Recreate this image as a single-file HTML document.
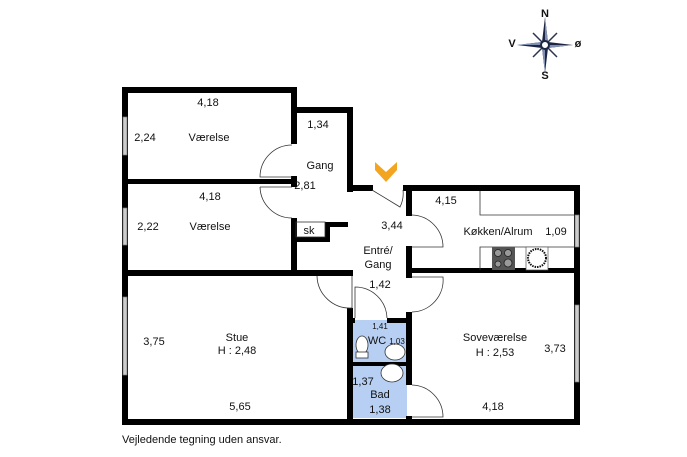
<!DOCTYPE html>
<html><head><meta charset="utf-8"><style>
html,body{margin:0;padding:0;background:#fff;}
svg{display:block;}
text{font-family:"Liberation Sans",sans-serif;font-size:11px;fill:#111;text-anchor:middle;}
</style></head><body>
<svg width="687" height="457" viewBox="0 0 687 457" xmlns="http://www.w3.org/2000/svg">
<rect x="0" y="0" width="687" height="457" fill="#fff"/>
<!-- blue bath/wc -->
<rect x="352" y="320" width="55" height="98" fill="#b6cff2"/>
<g fill="#000">
<!-- outer left -->
<rect x="122" y="87" width="6" height="338"/>
<!-- top -->
<rect x="122" y="87" width="175" height="6"/>
<rect x="291" y="87" width="6" height="57"/>
<rect x="291" y="107" width="62" height="6"/>
<rect x="347" y="107" width="6" height="85"/>
<rect x="347" y="185" width="26" height="6"/>
<rect x="403" y="185" width="177" height="6"/>
<rect x="574" y="185" width="6" height="240"/>
<!-- bottom -->
<rect x="122" y="419" width="458" height="6"/>
<!-- vaerelse divider -->
<rect x="122" y="179" width="175" height="5"/>
<rect x="291" y="176" width="6" height="11"/>
<rect x="291" y="218" width="6" height="57"/>
<!-- sk -->
<rect x="291" y="237" width="39" height="5"/>
<rect x="325" y="222" width="5" height="20"/>
<rect x="325" y="222" width="23" height="5"/>
<!-- stue top -->
<rect x="122" y="270" width="231" height="6"/>
<rect x="347" y="270" width="6" height="6"/>
<!-- wc left wall -->
<rect x="347" y="308" width="6" height="117"/>
<!-- wc top -->
<rect x="347" y="318" width="8" height="5"/>
<rect x="387" y="318" width="24" height="5"/>
<rect x="352" y="362" width="56" height="4"/>
<!-- right wc wall / sov left -->
<rect x="406" y="185" width="6" height="31"/>
<rect x="406" y="246" width="6" height="32"/>
<rect x="406" y="312" width="6" height="73"/>
<rect x="406" y="416" width="6" height="8"/>
<!-- kitchen bottom -->
<rect x="406" y="268" width="174" height="5"/>
</g>
<!-- windows -->
<g fill="#ccc" stroke="#777" stroke-width="0.7">
<rect x="123" y="117" width="4" height="38"/>
<rect x="123" y="208" width="4" height="37"/>
<rect x="123" y="297" width="4" height="78"/>
<rect x="575" y="215" width="4" height="32"/>
<rect x="575" y="305" width="4" height="77"/>
</g>
<!-- doors -->
<g fill="none" stroke="#333" stroke-width="0.8">
<path d="M292 145 A32 32 0 0 0 260 177 L292 177"/>
<path d="M260 187 A32 32 0 0 0 292 218 M292 187 L260 187"/>
<path d="M372 190 L400 207 A30 30 0 0 0 403 190"/>
<path d="M412 215 A32 32 0 0 1 443 247 L412 247"/>
<path d="M352 276 L352 308 A33 33 0 0 1 317 276"/>
<path d="M355 318 L355 287 A32 32 0 0 1 387 318"/>
<path d="M412 277 L443 277 A32 32 0 0 1 412 312"/>
<path d="M412 385 A32 32 0 0 1 443 417 L412 417"/>
<!-- kitchen counters -->
<path d="M480 191 L480 215 L574 215"/>
<path d="M480 270 L480 247 L574 247"/>
<rect x="296" y="222" width="29" height="15"/>
</g>
<rect x="492" y="247" width="23" height="23" fill="#555"/>
<g fill="#999" stroke="#222" stroke-width="0.8"><circle cx="498" cy="253" r="3.5"/><circle cx="508" cy="253" r="3.5"/><circle cx="498" cy="264" r="3"/><circle cx="508" cy="263" r="4"/></g>
<rect x="526" y="247" width="22" height="23" fill="#fff" stroke="#555" stroke-width="0.7"/>
<circle cx="537" cy="258" r="9" fill="#fff" stroke="#111" stroke-width="2" stroke-dasharray="1.5 1"/>
<!-- toilet / sinks -->
<g fill="#fff" stroke="#333" stroke-width="0.8">
<ellipse cx="362" cy="345" rx="6" ry="9"/>
<rect x="356" y="352" width="12" height="6"/>
<ellipse cx="395" cy="352" rx="10" ry="8"/>
<ellipse cx="392" cy="373" rx="11" ry="9"/>
</g>
<!-- chevron -->
<path d="M375 162 L386 172 L397 162 L397 170 L386 182 L375 170Z" fill="#f3a51f"/>
<!-- compass -->
<g transform="translate(545,45)">
<path d="M-12 -12 L12 12 M12 -12 L-12 12" stroke="#2a3450" stroke-width="1.5"/>
<path d="M0 -28 L3 -3 L28 0 L3 3 L0 28 L-3 3 L-28 0 L-3 -3Z" fill="#1d2745"/>
<path d="M0 -28 L3 -3 L0 0Z M28 0 L3 3 L0 0Z M0 28 L-3 3 L0 0Z M-28 0 L-3 -3 L0 0Z" fill="#8090b0"/>
<circle r="4" fill="#fff" stroke="#1d2745" stroke-width="2"/>
</g>
<g style="font-size:6px;font-weight:bold">
<text x="545" y="17">N</text><text x="545" y="79">S</text><text x="512" y="47">V</text><text x="578" y="47">ø</text>
</g>
<!-- labels -->
<text x="208" y="106">4,18</text>
<text x="145" y="141">2,24</text>
<text x="209" y="141">Værelse</text>
<text x="318" y="128">1,34</text>
<text x="320" y="169">Gang</text>
<text x="305" y="189">2,81</text>
<text x="210" y="200">4,18</text>
<text x="148" y="230">2,22</text>
<text x="210" y="230">Værelse</text>
<text x="309" y="234">sk</text>
<text x="392" y="229">3,44</text>
<text x="378" y="254">Entré/</text>
<text x="378" y="268">Gang</text>
<text x="446" y="204">4,15</text>
<text x="498" y="235">Køkken/Alrum</text>
<text x="556" y="235">1,09</text>
<text x="380" y="288">1,42</text>
<text x="237" y="341">Stue</text>
<text x="237" y="354">H : 2,48</text>
<text x="154" y="345">3,75</text>
<text x="240" y="410">5,65</text>
<text x="380" y="329" style="font-size:8px">1,41</text>
<text x="377" y="344">WC</text>
<text x="397" y="344" style="font-size:8px">1,03</text>
<text x="363" y="385">1,37</text>
<text x="380" y="398">Bad</text>
<text x="380" y="413">1,38</text>
<text x="495" y="341">Soveværelse</text>
<text x="495" y="356">H : 2,53</text>
<text x="555" y="352">3,73</text>
<text x="493" y="410">4,18</text>
<text x="122" y="443" style="text-anchor:start">Vejledende tegning uden ansvar.</text>
</svg>
</body></html>
